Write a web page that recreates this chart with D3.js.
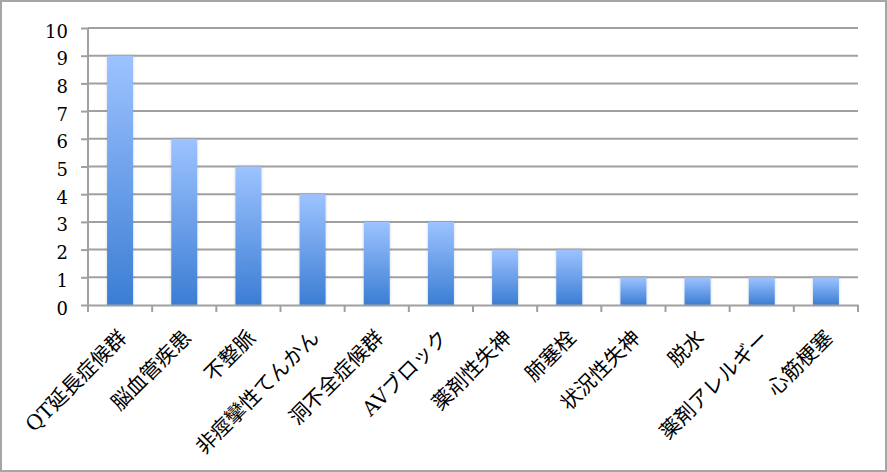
<!DOCTYPE html>
<html><head><meta charset="utf-8">
<script src="https://cdn.jsdelivr.net/npm/d3@7"></script>
<style>
html,body{margin:0;padding:0;background:#fff;}
</style>
</head><body>
<svg id="chart" width="887" height="472"></svg>
<script>
const categories = ["QT延長症候群","脳血管疾患","不整脈","非痙攣性てんかん","洞不全症候群","AVブロック","薬剤性失神","肺塞栓","状況性失神","脱水","薬剤アレルギー","心筋梗塞"];
const values = [9,6,5,4,3,3,2,2,1,1,1,1];
const yTicks = [0,1,2,3,4,5,6,7,8,9,10];

const svg = d3.select("#chart");
const W = 887, H = 472;
const m = {left:88, right:29, top:28, bottom:167};

svg.append("rect").attr("x",1).attr("y",1).attr("width",W-2).attr("height",H-2)
  .attr("fill","#fff").attr("stroke","#a6a6a6").attr("stroke-width",2);

const defs = svg.append("defs");
const g1 = defs.append("linearGradient").attr("id","barGrad").attr("x1",0).attr("y1",0).attr("x2",0).attr("y2",1);
g1.append("stop").attr("offset","0%").attr("stop-color","#9dc3ff");
g1.append("stop").attr("offset","100%").attr("stop-color","#3b7dd4");
const f = defs.append("filter").attr("id","shadow").attr("x","-30%").attr("y","-10%").attr("width","160%").attr("height","120%");
f.append("feDropShadow").attr("dx",0).attr("dy",0).attr("stdDeviation",1.5).attr("flood-color","#000").attr("flood-opacity",0.18);

const x = d3.scaleBand().domain(categories).range([m.left, W-m.right]).paddingInner(0).paddingOuter(0);
const y = d3.scaleLinear().domain([0,10]).range([H-m.bottom, m.top]);

const serif = "'DejaVu Serif','Liberation Serif',serif";
const jp = "'DejaVu Serif','Noto Sans CJK JP',serif";

// gridlines
svg.append("g").selectAll("line").data(yTicks.filter(d=>d>0)).join("line")
  .attr("x1",m.left).attr("x2",W-m.right)
  .attr("y1",d=>y(d)).attr("y2",d=>y(d))
  .attr("stroke","#a0a0a0").attr("stroke-width",2);

// y axis
const ya = svg.append("g").attr("transform",`translate(${m.left},0)`)
  .call(d3.axisLeft(y).tickValues(yTicks).tickSize(7).tickPadding(13).tickFormat(d3.format("d")));
ya.select(".domain").attr("stroke","#a0a0a0").attr("stroke-width",2).attr("d",`M-0,${y(10)}V${y(0)}`);
ya.selectAll(".tick line").attr("stroke","#a0a0a0").attr("stroke-width",2);
ya.selectAll(".tick text").attr("font-family",serif).attr("font-size",18).attr("fill","#000").attr("dy","0.5em");

// bars
const bw = 26;
svg.append("g").selectAll("rect").data(values).join("rect")
  .attr("x",(d,i)=>x(categories[i])+x.bandwidth()/2-bw/2)
  .attr("y",d=>y(d))
  .attr("width",bw)
  .attr("height",d=>y(0)-y(d))
  .attr("fill","url(#barGrad)")
  .attr("filter","url(#shadow)");

// x axis
const xa = svg.append("g").attr("transform",`translate(0,${y(0)})`)
  .call(d3.axisBottom(x).tickSize(0).tickFormat(""));
xa.select(".domain").attr("stroke","#a0a0a0").attr("stroke-width",2);
xa.selectAll(".tick").remove();
const bounds = categories.map(c=>x(c)).concat([W-m.right]);
xa.selectAll("line.tk").data(bounds).join("line").attr("class","tk")
  .attr("x1",d=>d).attr("x2",d=>d).attr("y1",0).attr("y2",7)
  .attr("stroke","#a0a0a0").attr("stroke-width",2);

// x labels
svg.append("g").selectAll("text").data(categories).join("text")
  .attr("transform",c=>`translate(${x(c)+x.bandwidth()/2+8},${y(0)+34}) rotate(-45)`)
  .attr("text-anchor","end")
  .attr("font-family",jp).attr("font-size",20.5).attr("fill","#000")
  .text(d=>d);
</script>
</body></html>
